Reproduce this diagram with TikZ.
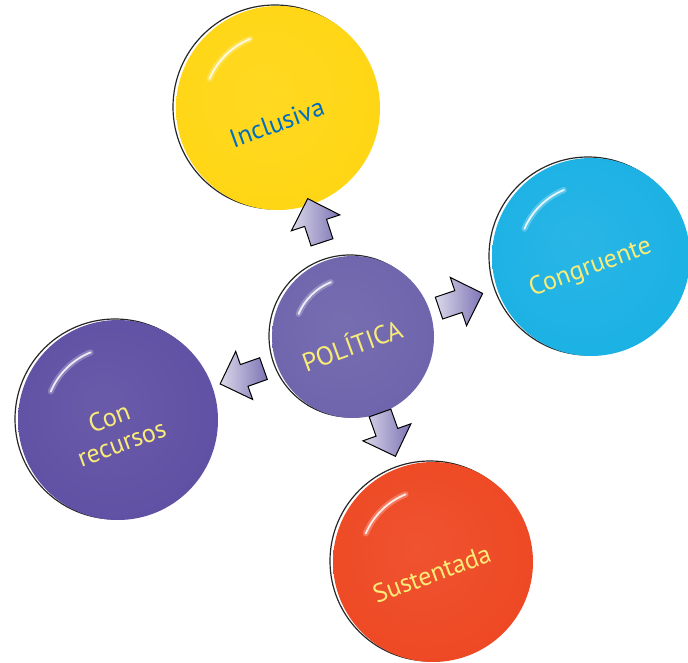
\documentclass[tikz,border=0pt]{standalone}
\usepackage{fontspec}
\setmainfont{PT Sans}
\usetikzlibrary{shapes.arrows}

\definecolor{amarillo}{RGB}{255,214,20}
\definecolor{celeste}{RGB}{27,177,228}
\definecolor{lila}{RGB}{110,100,172}
\definecolor{morado}{RGB}{96,80,164}
\definecolor{naranja}{RGB}{238,72,35}
\definecolor{azultxt}{RGB}{0,110,190}
\definecolor{crematxt}{RGB}{250,236,120}

% sombreado de los botones, depende del color base
\colorlet{botonbase}{lila}
\pgfdeclareradialshading[botonbase]{boton}{\pgfpoint{-4bp}{4bp}}{%
  color(0bp)=(botonbase!94!white);
  color(30bp)=(botonbase);
  color(45bp)=(botonbase);
  color(50bp)=(botonbase!72!black)}

% texto girado, con desplazamiento vertical opcional
\newcommand{\giro}[2][0pt]{\raisebox{#1}[\height][\depth]{%
  \rotatebox{20}{\begin{tabular}{@{}l@{}}#2\end{tabular}}}}

\tikzset{
  boton/.style 2 args={circle, inner sep=0pt, minimum size=2*#2pt,
    text=crematxt, font=\fontsize{26}{28}\selectfont,
    /utils/exec={\colorlet{botonbase}{#1}}, shade, shading=boton,
    preaction={draw=black!85, line width=1.2pt,
      transform canvas={shift={(-3pt,1pt)}}},
    path picture={
      \draw[white, opacity=.25, line width=6pt, line cap=round]
        ([shift={(157:0.73*#2pt)}]path picture bounding box.center)
        arc[start angle=157, end angle=112, radius=0.73*#2pt];
      \draw[white, opacity=.85, line width=1.8pt, line cap=round]
        ([shift={(157:0.73*#2pt)}]path picture bounding box.center)
        arc[start angle=157, end angle=112, radius=0.73*#2pt];}},
  flecha/.style={single arrow, draw=black, line width=1pt,
    inner xsep=0pt, inner ysep=11pt, minimum height=46pt,
    single arrow head extend=14pt,
    left color=lila!25!white, right color=lila!90, sloped, allow upside down}
}

\begin{document}
\begin{tikzpicture}[x=1pt,y=1pt]
  \useasboundingbox (0,0) rectangle (688,662);
  % botones
  \node[boton={amarillo}{102}, text=azultxt] (inc) at (278,554) {\giro[-18pt]{Inclusiva}};
  \node[boton={celeste}{99}] (cong) at (591,405) {\giro[-12pt]{Congruente}};
  \node[boton={morado}{100}] (rec) at (118,242) {\giro[-13pt]{\hspace{22pt}Con\\recursos}};
  \node[boton={naranja}{100}] (sus) at (433,100) {\giro[-15pt]{Sustentada}};
  \node[boton={lila}{81}] (pol) at (353,325) {\giro[-11pt]{POLÍTICA}};
  % flechas desde el centro
  \path (pol.center) -- (inc.center) node[flecha, pos=.485] (f-inc) {};
  \path (pol.center) -- (cong.center) node[flecha, pos=.43] (f-cong) {};
  \path (pol.center) -- (rec.center) node[flecha, pos=.45] (f-rec) {};
  \path (pol.center) -- (sus.center) node[flecha, pos=.41] (f-sus) {};
\end{tikzpicture}
\end{document}
